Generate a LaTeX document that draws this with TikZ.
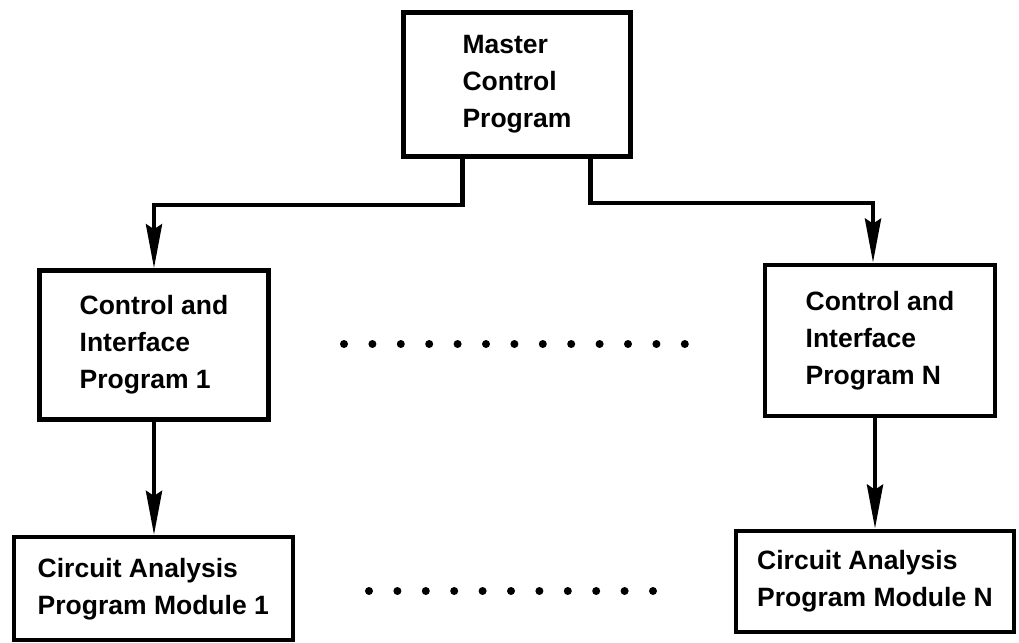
\documentclass[tikz,border=0pt]{standalone}
\usepackage{fontspec}
\setmainfont{Liberation Sans}
\usetikzlibrary{arrows.meta}
\begin{document}
\begin{tikzpicture}[x=1pt,y=-1pt,
  box/.style={draw=black, line width=4.5pt, inner sep=0pt, align=left,
    font=\fontsize{26.5}{37}\selectfont\bfseries, text=black},
  conn/.style={line width=4.5pt, line join=miter},
  arr/.style={conn, -{Stealth[length=44pt,width=16pt,inset=5pt]}},
  dot/.style={fill=black}]
\useasboundingbox[fill=white] (0,0) rectangle (1019,642);

\node[box, minimum width=227pt, minimum height=144pt] (master) at (517,84.5)
  {Master\\Control\\Program};
\node[box, minimum width=229pt, minimum height=149pt] (cb1) at (154,345)
  {Control and\\Interface\\Program 1};
\node[box, minimum width=230pt, minimum height=151pt] (cbN) at (880,340.4)
  {Control and\\Interface\\Program N};
\node[box, minimum width=279pt, minimum height=103pt] (c1) at (153.3,588.7)
  {Circuit Analysis\\Program Module 1};
\node[box, minimum width=278pt, minimum height=101pt] (cN) at (875,581.4)
  {Circuit Analysis\\Program Module N};

% connectors from master
\draw[arr] ([xshift=-54.7pt]master.south) -- ++(0,46) -| (cb1.north);
\draw[arr] ([xshift=73.7pt]master.south) -- ++(0,44) -| ([xshift=-7pt]cbN.north);
% connectors to circuit modules
\draw[arr] (cb1.south) -- (cb1.south |- c1.north);
\draw[arr] ([xshift=-5pt]cbN.south) -- ([xshift=-5pt]cbN.south |- cN.north);

% ellipsis dots
\foreach \i in {0,...,12} \fill[dot] ({344+28.4*\i},344) circle[radius=4pt];
\foreach \i in {0,...,10} \fill[dot] ({369+28.4*\i},591) circle[radius=4pt];
\end{tikzpicture}
\end{document}
